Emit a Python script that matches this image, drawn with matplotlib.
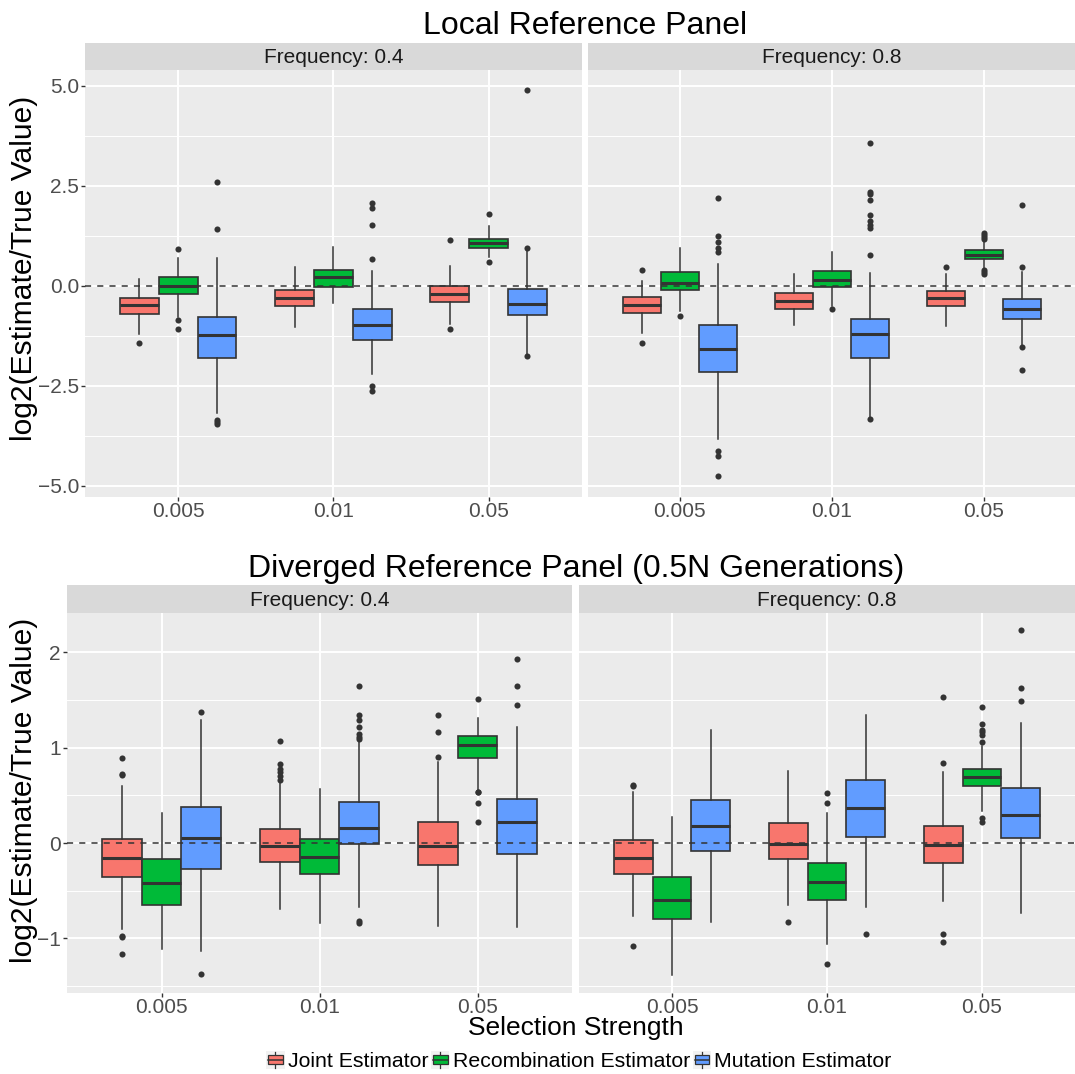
import numpy as np
import matplotlib
matplotlib.use('Agg')
import matplotlib.pyplot as plt
from matplotlib.patches import Rectangle, Patch
from matplotlib.lines import Line2D
from matplotlib.legend_handler import HandlerBase

plt.rcParams['font.family'] = ['Liberation Sans', 'DejaVu Sans']

sel = ['0.005', '0.01', '0.05']
estimators = ['Joint Estimator', 'Recombination Estimator', 'Mutation Estimator']
colors = ['#F8766D', '#00BA38', '#619CFF']

# each row: (whisker low, q1, median, q3, whisker high, outliers), one per selection strength
# local reference panel, frequency 0.4
local_f04_joint = [(-1.21, -0.71, -0.475, -0.30, 0.16, [-1.43]),
                   (-1.03, -0.52, -0.31, -0.12, 0.46, []),
                   (-0.95, -0.42, -0.21, -0.02, 0.49, [1.13, -1.09])]
local_f04_recomb = [(-0.78, -0.22, 0.0, 0.21, 0.68, [0.925, -0.87, -1.09]),
                    (-0.44, -0.025, 0.22, 0.40, 0.975, []),
                    (0.72, 0.93, 1.06, 1.17, 1.48, [1.78, 0.58])]
local_f04_mut = [(-3.19, -1.80, -1.24, -0.775, 0.68, [2.59, 1.42, -3.36, -3.42, -3.46]),
                 (-2.22, -1.35, -0.975, -0.575, 0.375, [2.075, 1.94, 1.525, 0.675, -2.52, -2.63]),
                 (-1.70, -0.74, -0.46, -0.083, 0.90, [4.9, 0.95, -1.75])]

# local reference panel, frequency 0.8
local_f08_joint = [(-1.19, -0.69, -0.48, -0.275, 0.11, [0.39, -1.43]),
                   (-0.99, -0.59, -0.38, -0.19, 0.29, []),
                   (-1.0, -0.5, -0.3, -0.13, 0.29, [0.475])]
local_f08_recomb = [(-0.625, -0.10, 0.067, 0.33, 0.93, [-0.77]),
                    (-0.51, -0.025, 0.13, 0.36, 0.83, [-0.59]),
                    (0.43, 0.675, 0.775, 0.88, 1.10, [1.31, 1.26, 1.21, 1.17, 0.39, 0.33, 0.28])]
local_f08_mut = [(-3.84, -2.17, -1.575, -0.99, 0.54, [2.2, 1.24, 1.08, 0.95, 0.85, -4.125, -4.26, -4.77]),
                 (-3.28, -1.82, -1.21, -0.84, 0.325, [3.575, 2.34, 2.3, 2.13, 1.76, 1.61, 1.525, 1.45, 0.77, -3.33]),
                 (-1.50, -0.825, -0.58, -0.34, 0.35, [2.02, 0.46, -1.54, -2.11])]

# diverged reference panel, frequency 0.4
div_f04_joint = [(-0.90, -0.36, -0.154, 0.045, 0.60, [0.89, 0.72, 0.71, -0.975, -0.99, -1.165]),
                 (-0.69, -0.20, -0.028, 0.143, 0.64, [1.066, 0.83, 0.78, 0.745, 0.70, 0.66]),
                 (-0.87, -0.227, -0.031, 0.22, 0.853, [1.346, 1.16, 0.90])]
div_f04_recomb = [(-1.115, -0.65, -0.42, -0.164, 0.32, []),
                  (-0.84, -0.33, -0.147, 0.042, 0.566, []),
                  (0.55, 0.89, 1.024, 1.12, 1.315, [1.514, 0.54, 0.535, 0.416, 0.224])]
div_f04_mut = [(-1.13, -0.27, 0.049, 0.38, 1.29, [1.37, -1.374]),
               (-0.668, -0.014, 0.157, 0.43, 1.07, [1.65, 1.34, 1.29, 1.22, 1.14, 1.115, 1.09, -0.815, -0.843]),
               (-0.88, -0.112, 0.217, 0.46, 1.22, [1.93, 1.65, 1.444])]

# diverged reference panel, frequency 0.8
div_f08_joint = [(-0.77, -0.32, -0.154, 0.035, 0.54, [0.61, 0.60, -1.077]),
                 (-0.65, -0.168, -0.007, 0.206, 0.76, [-0.83]),
                 (-0.61, -0.213, -0.017, 0.18, 0.745, [1.528, 0.843, -0.955, -1.04])]
div_f08_recomb = [(-1.38, -0.80, -0.60, -0.36, 0.27, []),
                  (-1.063, -0.594, -0.41, -0.206, 0.32, [0.53, 0.423, -1.266]),
                  (0.336, 0.60, 0.696, 0.78, 1.02, [1.43, 1.25, 1.19, 1.16, 1.13, 1.06, 0.26, 0.224])]
div_f08_mut = [(-0.83, -0.08, 0.18, 0.45, 1.19, []),
               (-0.668, 0.066, 0.367, 0.664, 1.346, [-0.958]),
               (-0.73, 0.052, 0.297, 0.577, 1.255, [2.23, 1.63, 1.49])]

W, H = 1075, 1074
fig = plt.figure(figsize=(W / 100, H / 100), dpi=100)


def px_axes(x0, y0, x1, y1):
    return fig.add_axes([x0 / W, 1 - y1 / H, (x1 - x0) / W, (y1 - y0) / H])


def to_stats(rows):
    return [dict(whislo=r[0], q1=r[1], med=r[2], q3=r[3], whishi=r[4], fliers=np.array(r[5]))
            for r in rows]


def draw_panel(ax, series, ylim, major, major_labels, minor, show_y):
    for k, (rows, col) in enumerate(zip(series, colors)):
        pos = np.arange(1, 4) + (k - 1) * 0.25
        ax.bxp(to_stats(rows), positions=pos, widths=0.25, patch_artist=True,
               showcaps=False, manage_ticks=False,
               boxprops=dict(facecolor=col, edgecolor='#333333', linewidth=1.2),
               medianprops=dict(color='#333333', linewidth=2.2),
               whiskerprops=dict(color='#333333', linewidth=1.1),
               flierprops=dict(marker='o', markerfacecolor='#333333',
                               markeredgecolor='none', markersize=4.4))
    ax.axhline(0, color='#333333', lw=1.1, ls=(0, (4, 4)), zorder=5)
    ax.set_xlim(0.4, 3.6)
    ax.set_ylim(*ylim)
    ax.set_facecolor('#EBEBEB')
    ax.set_xticks([1, 2, 3])
    ax.set_xticklabels(sel)
    ax.set_yticks(major)
    ax.set_yticklabels(major_labels)
    ax.set_yticks(minor, minor=True)
    ax.grid(which='major', color='white', lw=1.4)
    ax.grid(which='minor', axis='y', color='white', lw=0.7)
    ax.set_axisbelow(True)
    for s in ax.spines.values():
        s.set_visible(False)
    ax.tick_params(which='minor', length=0)
    ax.tick_params(which='major', length=2.75, width=1.0, color='#333333',
                   labelcolor='#4D4D4D', labelsize=15, pad=1.5)
    ax.tick_params(axis='x', pad=0.8)
    if not show_y:
        ax.tick_params(axis='y', left=False, labelleft=False)


def strip(x0, x1, y0, y1, label):
    s = px_axes(x0, y0, x1, y1)
    s.set_facecolor('#D9D9D9')
    s.set_xticks([])
    s.set_yticks([])
    for sp in s.spines.values():
        sp.set_visible(False)
    s.text(0.5, 0.45, label, ha='center', va='center', fontsize=15, color='#1A1A1A')


top_major = [-5.0, -2.5, 0.0, 2.5, 5.0]
top_labels = ['\u22125.0', '\u22122.5', '0.0', '2.5', '5.0']
top_minor = [-3.75, -1.25, 1.25, 3.75]
bot_major = [-1, 0, 1, 2]
bot_labels = ['\u22121', '0', '1', '2']
bot_minor = [-1.5, -0.5, 0.5, 1.5]

# top row: local reference panel
ax = px_axes(85, 70, 581.7, 496.7)
draw_panel(ax, [local_f04_joint, local_f04_recomb, local_f04_mut], (-5.28, 5.39),
           top_major, top_labels, top_minor, True)
ax = px_axes(588.3, 70, 1075, 496.7)
draw_panel(ax, [local_f08_joint, local_f08_recomb, local_f08_mut], (-5.28, 5.39),
           top_major, top_labels, top_minor, False)
strip(85, 581.7, 43, 70, 'Frequency: 0.4')
strip(588.3, 1075, 43, 70, 'Frequency: 0.8')

# bottom row: diverged reference panel
ax = px_axes(66.7, 613.3, 572.3, 992.7)
draw_panel(ax, [div_f04_joint, div_f04_recomb, div_f04_mut], (-1.57, 2.41),
           bot_major, bot_labels, bot_minor, True)
ax = px_axes(579, 613.3, 1075, 992.7)
draw_panel(ax, [div_f08_joint, div_f08_recomb, div_f08_mut], (-1.57, 2.41),
           bot_major, bot_labels, bot_minor, False)
strip(66.7, 572.3, 585, 613.3, 'Frequency: 0.4')
strip(579, 1075, 585, 613.3, 'Frequency: 0.8')

fig.text(585 / W, 1 - 26 / H, 'Local Reference Panel', ha='center', va='center', fontsize=23)
fig.text(576 / W, 1 - 569 / H, 'Diverged Reference Panel (0.5N Generations)',
         ha='center', va='center', fontsize=23)
fig.text(24 / W, 1 - 268 / H, 'log2(Estimate/True Value)', rotation=90,
         ha='center', va='center', fontsize=21.6)
fig.text(24 / W, 1 - 790 / H, 'log2(Estimate/True Value)', rotation=90,
         ha='center', va='center', fontsize=21.6)
fig.text(576 / W, 1 - 1028 / H, 'Selection Strength', ha='center', va='center', fontsize=19)


class BoxKey(HandlerBase):
    # small boxplot glyph on a light key background
    def create_artists(self, legend, orig_handle, xd, yd, width, height, fontsize, trans):
        fc = orig_handle.get_facecolor()
        x0, y0 = -xd, -yd
        bg = Rectangle((x0, y0), width, height, facecolor='#F2F2F2', edgecolor='none',
                       transform=trans)
        cx = x0 + width / 2
        whisk = Line2D([cx, cx], [y0 + 0.06 * height, y0 + 0.94 * height], color='#333333',
                       lw=0.9, transform=trans)
        box = Rectangle((x0 + 0.1 * width, y0 + 0.25 * height), 0.8 * width, 0.5 * height,
                        facecolor=fc, edgecolor='#333333', lw=0.9, transform=trans)
        med = Line2D([x0 + 0.1 * width, x0 + 0.9 * width], [y0 + height / 2] * 2,
                     color='#333333', lw=1.1, transform=trans)
        return [bg, whisk, box, med]


handles = [Patch(facecolor=c) for c in colors]
fig.legend(handles, estimators, handler_map={Patch: BoxKey()}, loc='center',
           bbox_to_anchor=(579 / W, 1 - 1061 / H), ncol=3, frameon=False, fontsize=15.3,
           handlelength=0.85, handleheight=0.9, handletextpad=0.15, columnspacing=0.15,
           borderpad=0)

fig.savefig('out.png', dpi=100)
